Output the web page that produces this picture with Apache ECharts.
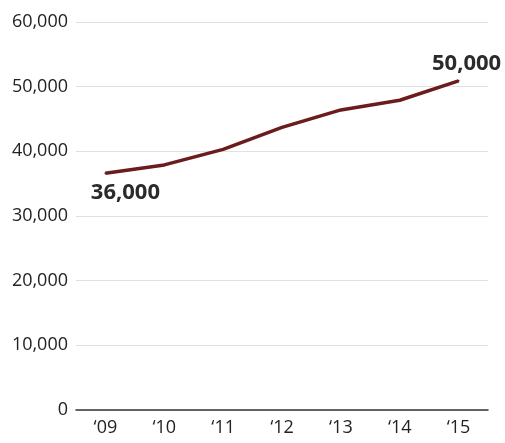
<!DOCTYPE html>
<html>
<head>
<meta charset="utf-8">
<script src="https://cdn.jsdelivr.net/npm/echarts@6/dist/echarts.min.js"></script>
<style>
  html, body { margin: 0; padding: 0; background: #fff; }
  #main { width: 505px; height: 443px; }
</style>
</head>
<body>
<div id="main"></div>
<script>
// data
var years = ['\u201809', '\u201810', '\u201811', '\u201812', '\u201813', '\u201814', '\u201815'];
var values = [36600, 37900, 40300, 43700, 46400, 47900, 50900];
var callouts = ['36,000', '', '', '', '', '', '50,000'];

var chartDom = document.getElementById('main');
var myChart = echarts.init(chartDom);

var seriesData = values.map(function (v, i) {
  var item = { value: v };
  if (i === 0) {
    item.label = { show: true, formatter: callouts[i], position: 'bottom', offset: [20, 2] };
  } else if (i === values.length - 1) {
    item.label = { show: true, formatter: callouts[i], position: 'top', offset: [8, 0] };
  }
  return item;
});

var option = {
  animation: false,
  grid: { left: 76, right: 17, top: 22, bottom: 33 },
  xAxis: {
    type: 'category',
    data: years,
    boundaryGap: true,
    axisLine: { lineStyle: { color: '#333', width: 1.5 } },
    axisTick: { show: false },
    axisLabel: { color: '#222', fontFamily: 'Open Sans', fontSize: 18, margin: 9 }
  },
  yAxis: {
    type: 'value',
    min: 0,
    max: 60000,
    interval: 10000,
    axisLine: { show: false },
    axisTick: { show: false },
    axisLabel: {
      color: '#222',
      fontFamily: 'Open Sans',
      fontSize: 18,
      margin: 8,
      formatter: function (v) { return v.toLocaleString('en-US'); }
    },
    splitLine: { lineStyle: { color: '#e0e0e0', width: 1 } }
  },
  series: [
    {
      type: 'line',
      data: seriesData,
      symbol: 'circle',
      symbolSize: 2,
      showSymbol: true,
      itemStyle: { color: '#6b1c1c' },
      lineStyle: { color: '#6b1c1c', width: 3.5 },
      label: {
        color: '#2b2b2b',
        fontFamily: 'Open Sans',
        fontWeight: 'bold',
        fontSize: 22
      }
    }
  ]
};

myChart.setOption(option);
</script>
</body>
</html>
